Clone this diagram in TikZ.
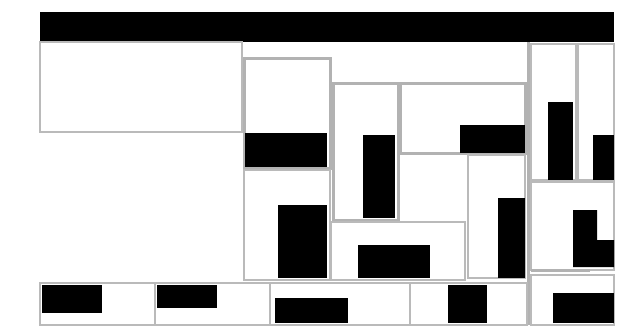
\documentclass[tikz,border=0pt]{standalone}
\begin{document}
\begin{tikzpicture}[x=1pt,y=-1pt,
  gbox/.style={draw=black!30, line width=3pt},
  gthin/.style={draw=black!27, line width=2pt},
  blk/.style={fill=black}]
\useasboundingbox[fill=white] (0,0) rectangle (627,327);
% top bar
\fill[blk] (40,12) rectangle (614,42);
% upper-left box
\draw[gthin] (40,42) rectangle (242,132);
% column B / K
\draw[gbox] (244,58) rectangle (330,168);
\fill[blk] (245,133) rectangle (327,167);
\draw[gthin] (244,170) rectangle (330,280);
\fill[blk] (278,205) rectangle (327,278);
% C and D
\draw[gbox] (333,83) rectangle (398,220);
\fill[blk] (363,135) rectangle (395,218);
\draw[gbox] (400,83) rectangle (525,153);
\fill[blk] (460,125) rectangle (525,153);
% J and E
\draw[gthin] (331,222) rectangle (465,280);
\fill[blk] (358,245) rectangle (430,278);
\draw[gthin] (468,155) rectangle (525,278);
\fill[blk] (498,198) rectangle (525,278);
% right divider
\draw[gbox] (528,42) -- (528,325);
% F and G
\draw[gthin] (531,44) rectangle (576,180);
\fill[blk] (548,102) rectangle (573,180);
\draw[gthin] (578,44) rectangle (614,180);
\fill[blk] (593,135) rectangle (614,180);
% H
\draw[gthin] (531,182) rectangle (614,270);
\fill[blk] (573,210) -- (597,210) -- (597,240) -- (614,240) -- (614,267) -- (573,267) -- cycle;
\draw[gbox] (531,270) -- (590,270);
% I
\draw[gthin] (531,275) rectangle (614,325);
\fill[blk] (553,293) rectangle (614,323);
% bottom row
\draw[gthin] (40,283) rectangle (155,325);
\fill[blk] (42,285) rectangle (102,313);
\draw[gthin] (155,283) rectangle (270,325);
\fill[blk] (157,285) rectangle (217,308);
\draw[gthin] (270,283) rectangle (410,325);
\fill[blk] (275,298) rectangle (348,323);
\draw[gthin] (410,283) rectangle (527,325);
\fill[blk] (448,285) rectangle (487,323);
\end{tikzpicture}
\end{document}
